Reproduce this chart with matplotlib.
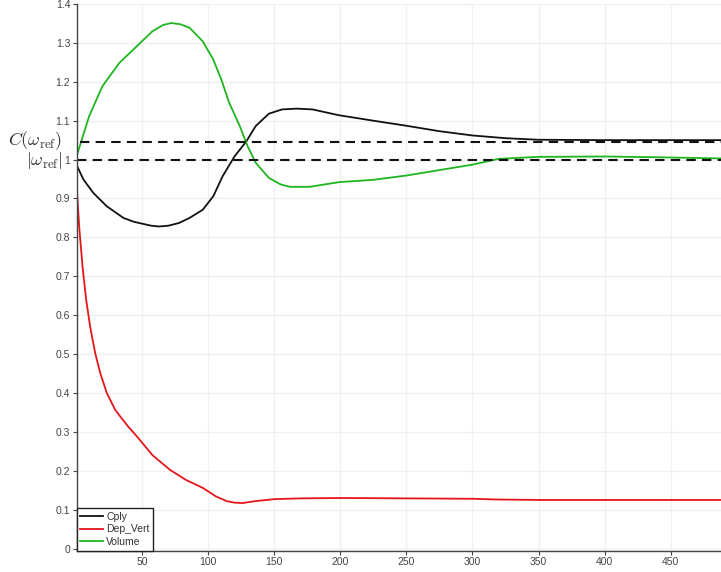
import numpy as np
import matplotlib
matplotlib.use('Agg')
import matplotlib.pyplot as plt
import matplotlib.transforms as mtransforms

# Datos
x_cply = [1, 5.7, 13.3, 23.4, 36, 44, 57, 63, 70, 78, 86, 96, 104, 111, 120,
          129, 136, 146, 156, 167, 179, 199, 225, 250, 275, 300, 325, 350, 400,
          450, 488]
cply = [0.983, 0.949, 0.914, 0.880, 0.850, 0.840, 0.830, 0.828, 0.830, 0.837,
        0.850, 0.871, 0.906, 0.957, 1.008, 1.047, 1.086, 1.118, 1.129, 1.131,
        1.129, 1.114, 1.100, 1.087, 1.073, 1.062, 1.055, 1.051, 1.050, 1.050,
        1.050]

x_dep = [1, 2.7, 5.2, 7.8, 10.8, 14.6, 18.4, 23.4, 29.7, 33.5, 39, 46, 58, 71,
         83, 96, 106, 114, 120, 126, 136, 150, 170, 200, 250, 300, 320, 350,
         400, 450, 488]
dep_vert = [0.910, 0.820, 0.720, 0.640, 0.571, 0.503, 0.452, 0.400, 0.357,
            0.340, 0.316, 0.289, 0.240, 0.203, 0.177, 0.156, 0.134, 0.122,
            0.118, 0.117, 0.122, 0.127, 0.129, 0.130, 0.129, 0.128, 0.126,
            0.125, 0.125, 0.125, 0.125]

x_vol = [1, 10, 20, 33, 46, 58, 66, 72, 79, 86, 96, 104, 110, 116, 124, 130,
         136, 146, 155, 162, 177, 199, 225, 250, 275, 300, 320, 350, 400, 440,
         488]
volume = [1.013, 1.111, 1.188, 1.249, 1.291, 1.330, 1.346, 1.351, 1.348, 1.339,
          1.304, 1.257, 1.206, 1.146, 1.086, 1.034, 0.992, 0.953, 0.936, 0.930,
          0.930, 0.942, 0.948, 0.959, 0.973, 0.987, 1.002, 1.007, 1.008, 1.006,
          1.003]

c_ref = 1.046
w_ref = 1.0

x_ticks = [50, 100, 150, 200, 250, 300, 350, 400, 450]
y_ticks = [0, 0.1, 0.2, 0.3, 0.4, 0.5, 0.6, 0.7, 0.8, 0.9, 1, 1.1, 1.2, 1.3, 1.4]

plt.rcParams['font.family'] = ['Liberation Sans', 'DejaVu Sans']
plt.rcParams['mathtext.fontset'] = 'cm'

fig = plt.figure(figsize=(7.21, 5.72), dpi=100)
ax = fig.add_axes([76.5 / 721, 21.5 / 572, 1 - 76.5 / 721, 1 - 25.5 / 572])

ax.plot(x_cply, cply, color='#111111', lw=1.3, label='Cply')
ax.plot(x_dep, dep_vert, color='#e4161c', lw=1.3, label='Dep_Vert')
ax.plot(x_vol, volume, color='#1fb51f', lw=1.3, label='Volume')

# lineas de referencia
ax.axhline(c_ref, xmin=0.005, color='#111111', lw=1.5, ls=(0, (4.5, 3)))
ax.axhline(w_ref, xmin=0.0, color='#111111', lw=1.5, ls=(0, (4.5, 3)))

ax.set_xlim(0.5, 488)
ax.set_ylim(-0.005, 1.4)
ax.set_xticks(x_ticks)
ax.set_yticks(y_ticks)
ax.set_yticklabels(['%g' % v for v in y_ticks])
ax.tick_params(labelsize=7.5, labelcolor='#444444', color='#444444', length=3,
               width=0.8, pad=1.5)
ax.grid(True, color='#f0f0f0', lw=1)
ax.set_axisbelow(True)
for s in ['top', 'right']:
    ax.spines[s].set_visible(False)
for s in ['left', 'bottom']:
    ax.spines[s].set_color('#444444')
    ax.spines[s].set_linewidth(1)

trans = mtransforms.blended_transform_factory(ax.transAxes, ax.transData)
ax.text(-0.022, c_ref + 0.002, r'$C(\omega_{\rm ref})$', transform=trans,
        ha='right', va='center', fontsize=13, color='#333333')
ax.text(-0.022, w_ref - 0.003, r'$|\omega_{\rm ref}|$', transform=trans,
        ha='right', va='center', fontsize=13, color='#333333')

leg = ax.legend(loc='lower left', bbox_to_anchor=(0, 0), borderaxespad=0,
                fontsize=7.5, handlelength=2.2, handletextpad=0.3,
                labelspacing=0.25, borderpad=0.35, fancybox=False,
                framealpha=1)
leg.get_frame().set_edgecolor('#222222')
leg.get_frame().set_linewidth(1)
for t in leg.get_texts():
    t.set_color('#333333')

fig.savefig('out.png', dpi=100)
